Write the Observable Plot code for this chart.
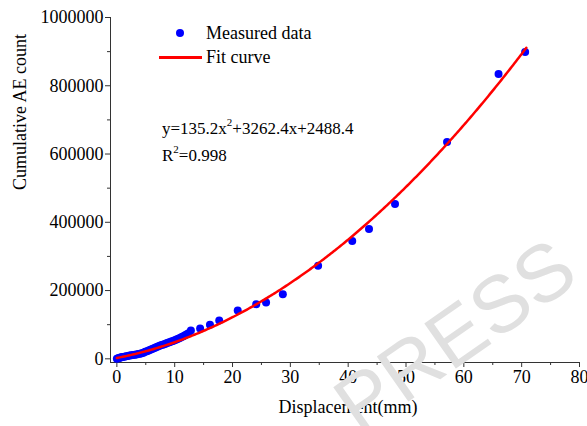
<!DOCTYPE html>
<html>
<head>
<meta charset="utf-8">
<script src="https://cdn.jsdelivr.net/npm/d3@7"></script>
<script src="https://cdn.jsdelivr.net/npm/@observablehq/plot@0.6"></script>
<style>
  body { margin: 0; background: #fff; }
  #chart {
    position: relative; width: 587px; height: 426px; overflow: hidden;
    font-family: "Liberation Serif", "Times New Roman", serif; color: #000; background: #fff;
  }
  #chart svg { display: block; }
  .abs { position: absolute; white-space: nowrap; }
  .legend-text { font-size: 18px; line-height: 20px; }
  .equation { font-size: 17px; line-height: 27px; }
  .equation sup { font-size: 11px; line-height: 0; position: relative; top: -1px; }
  .watermark {
    font-family: "Liberation Sans", Arial, sans-serif; font-size: 80px; line-height: 1;
    color: #e0e0e0; transform: translate(-50%, -50%) rotate(-35deg); pointer-events: none;
  }
</style>
</head>
<body>
<div id="chart"></div>
<script>
// Measured cumulative AE count against displacement (mm)
const displacement = [
  0.0, 0.2, 0.4, 0.6, 0.8, 1.0, 1.3, 1.6, 1.9, 2.2, 2.5, 2.8, 3.1, 3.4, 3.7, 4.0,
  4.3, 4.6, 4.9, 5.2, 5.5, 5.8, 6.1, 6.4, 6.7, 7.0, 7.3, 7.6, 7.9, 8.2, 8.5, 8.8,
  9.1, 9.4, 9.7, 10.0, 10.3, 10.6, 10.9, 11.2, 11.5, 11.8, 12.1, 12.4,
  12.8, 14.4, 16.1, 17.7, 20.9, 24.1, 25.8, 28.7, 34.8, 40.7, 43.6, 48.1, 57.1, 66.0, 70.6
];
const aeCount = [
  0, 1500, 2600, 3500, 4300, 5200, 6300, 7400, 8500, 9400, 10300, 11200, 12100, 13000, 14000, 15100,
  16300, 17700, 20800, 22400, 24300, 26400, 28600, 30900, 33200, 35400, 37500, 39400, 41200, 43000, 44800, 46700,
  48600, 50500, 52500, 54500, 56600, 58800, 61100, 63600, 66200, 69000, 72000, 75000,
  82900, 88700, 99600, 112200, 141400, 160200, 164900, 189500, 272300, 345500, 380700, 453900, 635400, 834500, 899000
];

// Quadratic fit: y = a x^2 + b x + c
const fitCoef = [135.2, 3262.4, 2488.4];
const fitRange = [0, 70.8];
const rSquared = 0.998;

// Axis layout values
const xDomain = [-1.1, 80];
const yDomain = [-10800, 1000000];
const xMajor = d3.range(0, 81, 10);
const xMinor = d3.range(5, 80, 10);
const yMajor = d3.range(0, 1000001, 200000);
const yMinor = d3.range(100000, 1000000, 200000);

const measured = displacement.map((x, i) => ({x, y: aeCount[i]}));
const fitX = d3.range(fitRange[0], fitRange[1], 0.25).concat([fitRange[1]]);
const fit = fitX.map(x => ({x, y: fitCoef[0] * x * x + fitCoef[1] * x + fitCoef[2]}));

const axisColor = "#333";

const plot = Plot.plot({
  width: 587,
  height: 426,
  marginLeft: 110,
  marginRight: 8,
  marginTop: 17,
  marginBottom: 64,
  style: {fontFamily: "'Liberation Serif', 'Times New Roman', serif", fontSize: "18px", color: "#000", background: "transparent"},
  x: {domain: xDomain},
  y: {domain: yDomain},
  marks: [
    Plot.ruleY([yDomain[0]], {stroke: axisColor, strokeWidth: 1}),
    Plot.ruleX([xDomain[0]], {stroke: axisColor, strokeWidth: 1}),
    Plot.axisX({ticks: xMajor, tickSize: 5, tickPadding: 3, tickFormat: d => String(d), label: null, stroke: axisColor, fill: "#000"}),
    Plot.axisX({ticks: xMinor, tickSize: 3, tickFormat: () => "", label: null, stroke: axisColor}),
    Plot.axisY({ticks: yMajor, tickSize: 5, tickPadding: 2, tickFormat: d => String(d), label: null, stroke: axisColor, fill: "#000"}),
    Plot.axisY({ticks: yMinor, tickSize: 3, tickFormat: () => "", label: null, stroke: axisColor}),
    Plot.dot(measured, {x: "x", y: "y", r: 4, fill: "#0000ff"}),
    Plot.line(fit, {x: "x", y: "y", stroke: "#ff0000", strokeWidth: 2.5}),
    Plot.text(["Cumulative AE count"], {text: d => d, frameAnchor: "left", dx: -90, rotate: -90, fontSize: 18, fill: "#000"}),
    Plot.text(["Displacement(mm)"], {text: d => d, frameAnchor: "bottom", dy: 50, dx: 3, fontSize: 18, fill: "#000"})
  ]
});

const chart = document.getElementById("chart");
chart.appendChild(plot);

// Legend
const legendDot = document.createElement("div");
legendDot.className = "abs";
Object.assign(legendDot.style, {left: "176px", top: "29px", width: "8px", height: "8px", borderRadius: "50%", background: "#0000ff"});
chart.appendChild(legendDot);

const legendLine = document.createElement("div");
legendLine.className = "abs";
Object.assign(legendLine.style, {left: "159px", top: "56px", width: "43px", height: "2.5px", background: "#ff0000"});
chart.appendChild(legendLine);

const legendLabels = [["Measured data", 23], ["Fit curve", 47]];
for (const [label, top] of legendLabels) {
  const el = document.createElement("div");
  el.className = "abs legend-text";
  el.style.left = "206px";
  el.style.top = top + "px";
  el.textContent = label;
  chart.appendChild(el);
}

// Fit equation and coefficient of determination
const eq = document.createElement("div");
eq.className = "abs equation";
eq.style.left = "162px";
eq.style.top = "115px";
eq.innerHTML = `y=${fitCoef[0]}x<sup>2</sup>+${fitCoef[1]}x+${fitCoef[2]}<br>R<sup>2</sup>=${rSquared}`;
chart.appendChild(eq);

// Publisher watermark
const mark = document.createElement("div");
mark.className = "abs watermark";
mark.style.left = "455px";
mark.style.top = "336px";
mark.textContent = "PRESS";
chart.appendChild(mark);
</script>
</body>
</html>
